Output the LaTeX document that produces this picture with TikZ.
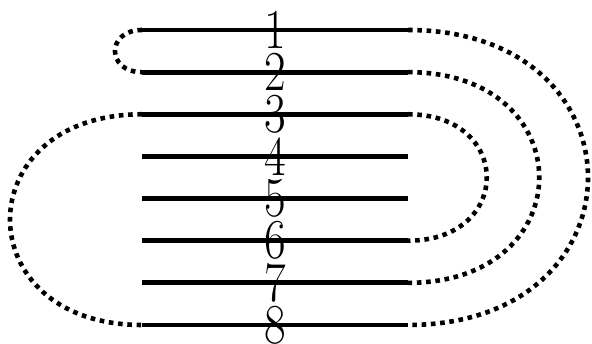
\documentclass[tikz,border=0pt]{standalone}
\begin{document}
\begin{tikzpicture}[x=1pt,y=-1pt,
  strand/.style={line width=4.8pt},
  link/.style={line width=4.6pt,dash pattern=on 4.6pt off 4.7pt},
  num/.style={inner sep=0pt,font=\fontsize{47}{47}\selectfont}]
\useasboundingbox (0,0) rectangle (592,344);
\foreach \k in {1,...,8}{
  \pgfmathsetmacro{\yy}{30+42.14*(\k-1)}
  \coordinate (L\k) at (142,\yy);
  \coordinate (R\k) at (408,\yy);
  \draw[strand] (L\k) -- (R\k);
  \node[num] (n\k) at (275,\yy) {\scalebox{1}[1.2]{\k}};
}
\draw[link] (R1) .. controls +(240,0) and +(240,0) .. (R8);
\draw[link] (R2) .. controls +(175,0) and +(175,0) .. (R7);
\draw[link] (R3) .. controls +(105,0) and +(105,0) .. (R6);
\draw[link] (L1) .. controls +(-36,0) and +(-36,0) .. (L2);
\draw[link] (L3) .. controls +(-176,0) and +(-176,0) .. (L8);
\end{tikzpicture}
\end{document}
